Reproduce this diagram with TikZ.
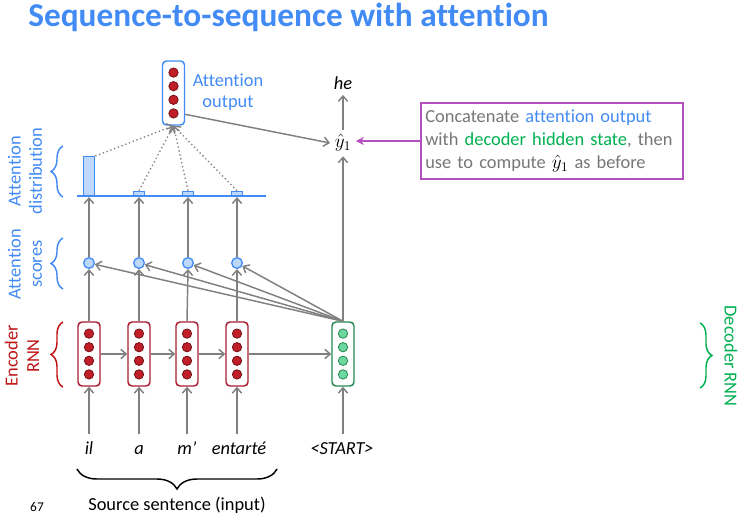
\documentclass[tikz,border=0pt]{standalone}
\usepackage{fontspec}
\setmainfont[Ligatures={TeX,NoCommon}]{Carlito}
\usetikzlibrary{arrows.meta, positioning, decorations.pathreplacing}

\definecolor{attBlue}{RGB}{66,139,245}
\definecolor{attFill}{RGB}{190,216,252}
\definecolor{encRed}{RGB}{192,20,20}
\definecolor{encEdge}{RGB}{170,28,48}
\definecolor{encDotFill}{RGB}{192,30,40}
\definecolor{decGreen}{RGB}{0,176,80}
\definecolor{decEdge}{RGB}{36,136,80}
\definecolor{decDotFill}{RGB}{110,215,160}
\definecolor{noteMag}{RGB}{180,80,190}
\definecolor{arrGray}{RGB}{128,128,128}
\definecolor{noteText}{RGB}{118,118,118}

\begin{document}
\begin{tikzpicture}[
  x=0.75pt, y=-0.75pt,
  font=\fontsize{13.8}{16}\selectfont,
  rnn/.style={
    draw, line width=1.1pt, rounded corners=3pt, fill=white,
    minimum width=16.5pt, minimum height=48pt, inner sep=0pt
  },
  encBox/.style={rnn, draw=encEdge},
  decBox/.style={rnn, draw=decEdge},
  outBox/.style={rnn, draw=attBlue},
  encDot/.style={fill=encDotFill, draw=encDotFill!60!black, line width=0.6pt},
  decDot/.style={fill=decDotFill, draw=decEdge, line width=0.6pt},
  score/.style={circle, draw=attBlue, fill=attFill, line width=1pt, minimum size=8pt, inner sep=0pt},
  bar/.style={draw=attBlue, fill=attFill, line width=1pt, minimum width=8.5pt, inner sep=0pt, anchor=south},
  word/.style={font=\fontsize{13.8}{16}\selectfont\itshape, inner sep=1pt, text height=9.5pt, text depth=3pt},
  flow/.style={draw=arrGray, line width=1.1pt, -{Straight Barb[length=4pt, width=7pt]}},
  attn/.style={draw=arrGray, line width=1pt, dotted, -{Straight Barb[length=4pt, width=7pt]}},
  brace/.style={decorate, decoration={brace, amplitude=9pt}, line width=1.1pt},
  sideLabel/.style={rotate=90, align=center},
  note/.style={
    draw=noteMag, line width=1.5pt, text=noteText, align=left,
    font=\fontsize{13.8}{17}\selectfont,
    text width=190pt, minimum height=57pt, inner xsep=3.25pt, inner ysep=2pt
  }
]
\useasboundingbox (0,0) rectangle (742,529);

\node[anchor=west, inner sep=0pt, text=attBlue, font=\fontsize{25}{30}\selectfont\bfseries] (title)
  at (28,17) {Sequence-to-sequence with attention};

\node[encBox] (enc1) at (89,354) {};
\node[encBox] (enc2) at (139,354) {};
\node[encBox] (enc3) at (187,354) {};
\node[encBox] (enc4) at (237,354) {};
\node[decBox] (dec) at (343,354) {};
\node[outBox] (attOut) at (173.5,93) {};

\foreach \b in {enc1,enc2,enc3,enc4,attOut}
  \foreach \dy in {15.3,5.1,-5.1,-15.3}
    \draw[encDot] ([yshift=\dy pt]\b.center) circle (3.5pt);
\foreach \dy in {15.3,5.1,-5.1,-15.3}
  \draw[decDot] ([yshift=\dy pt]dec.center) circle (3.5pt);

\node[word] (w1) at (89,450) {il};
\node[word] (w2) at (139,450) {a};
\node[word] (w3) at (187,450) {m’};
\node[word] (w4) at (239,450) {entarté};
\node[word] (start) at (342,450) {<START>};

\node[score] (sc1) at (89,263) {};
\node[score] (sc2) at (139,263) {};
\node[score] (sc3) at (188,263) {};
\node[score] (sc4) at (237,263) {};

\coordinate (distL) at (77,196);
\coordinate (distR) at (266,196);
\draw[attBlue, line width=1.5pt] (distL) -- (distR);
\node[bar, minimum height=29pt] (bar1) at (89,196) {};
\node[bar, minimum height=3pt] (bar2) at (139,196) {};
\node[bar, minimum height=3pt] (bar3) at (188,196) {};
\node[bar, minimum height=3pt] (bar4) at (237,196) {};

\node (yhat) at (343,143) {$\hat{y}_1$};
\node[word] (he) at (343,85) {he};

\node[note, anchor=north west] (note) at (420,102) {%
  Concatenate \textcolor{attBlue}{attention output}\\
  with \textcolor{decGreen}{decoder hidden state}, then\\
  use to compute \textcolor{black}{$\hat{y}_1$} as before};

\node[text=attBlue, align=center] (attOutLabel) at (228,92) {Attention\\output};

\node[sideLabel, text=attBlue] (distLabel) at (25,171) {Attention\\distribution};
\node[sideLabel, text=attBlue] (scoreLabel) at (25,264) {Attention\\scores};
\node[sideLabel, text=encRed] (encLabel) at (22,356) {Encoder\\RNN};
\node[rotate=-90, text=decGreen] (decLabel) at (731,356) {Decoder RNN};

\node (srcLabel) at (177,505) {Source sentence (input)};
\node[font=\fontsize{10}{12}\selectfont] (pageNum) at (37,507) {67};

\draw[flow, shorten <=4.5pt] (enc1 |- w1.north) -- (enc1.south);
\draw[flow, shorten <=4.5pt] (enc2 |- w2.north) -- (enc2.south);
\draw[flow, shorten <=4.5pt] (enc3 |- w3.north) -- (enc3.south);
\draw[flow, shorten <=4.5pt] (enc4 |- w4.north) -- (enc4.south);
\draw[flow, shorten <=4.5pt] (dec |- start.north) -- (dec.south);

\draw[flow] (enc1) -- (enc2);
\draw[flow] (enc2) -- (enc3);
\draw[flow] (enc3) -- (enc4);
\draw[flow] (enc4) -- (dec);

\draw[flow] (enc1.north) -- (sc1.south);
\draw[flow] (enc2.north) -- (sc2.south);
\draw[flow] (enc3.north) -- (sc3.south);
\draw[flow] (enc4.north) -- (sc4.south);

\draw[flow] (dec.north) -- (sc1);
\draw[flow] (dec.north) -- (sc2);
\draw[flow] (dec.north) -- (sc3);
\draw[flow] (dec.north) -- (sc4);

\draw[flow, shorten >=0.8pt] (sc1.north) -- (sc1 |- distL);
\draw[flow, shorten >=0.8pt] (sc2.north) -- (sc2 |- distL);
\draw[flow, shorten >=0.8pt] (sc3.north) -- (sc3 |- distL);
\draw[flow, shorten >=0.8pt] (sc4.north) -- (sc4 |- distL);

\draw[attn] (bar1.north east) -- (attOut.south);
\draw[attn] (bar2.north) -- (attOut.south);
\draw[attn] (bar3.north) -- (attOut.south);
\draw[attn] (bar4.north) -- (attOut.south);

\draw[flow] ([yshift=-16pt]attOut.east) -- (yhat.west);
\draw[flow] (dec.north) -- (yhat.south);
\draw[flow] (yhat.north) -- (he.south);
\draw[draw=noteMag, line width=1.5pt, -{Stealth[length=6pt, width=6pt]}] (note.west) -- (note.west -| yhat.east);

\draw[brace, draw=attBlue] (63,197) -- (63,146);
\draw[brace, draw=attBlue] (63,289) -- (63,238);
\draw[brace, draw=encRed] (63,387) -- (63,322);
\draw[brace, draw=decGreen] (700,323) -- (700,388);
\draw[brace, black, decoration={brace, amplitude=15pt}] (277,469) -- (77,469);
\end{tikzpicture}
\end{document}
